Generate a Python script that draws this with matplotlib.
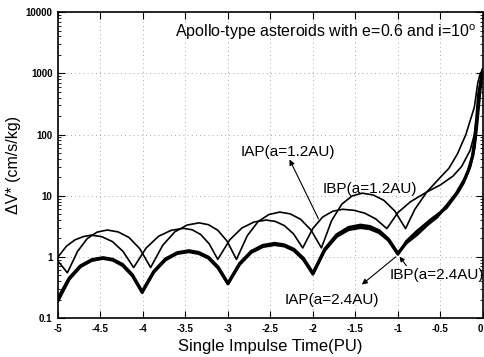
import matplotlib
matplotlib.use("Agg")
import matplotlib.pyplot as plt
from matplotlib.ticker import FixedLocator, LogLocator, NullFormatter

plt.rcParams["font.family"] = ["Liberation Sans", "DejaVu Sans"]
plt.rcParams["mathtext.fontset"] = "custom"
plt.rcParams["mathtext.rm"] = "Liberation Sans"

# IAP(a=1.2AU) - thin curve
t_iap12 = [-5.0, -4.9, -4.8, -4.7, -4.61, -4.485, -4.36, -4.235, -4.11, -3.9625, -3.815, -3.6675,
           -3.52, -3.42, -3.32, -3.22, -3.12, -2.9775, -2.835, -2.6925, -2.55, -2.4425, -2.335,
           -2.2275, -2.12, -2.0025, -1.885, -1.7675, -1.65, -1.52, -1.39, -1.26, -1.13, -1.0,
           -0.85, -0.66, -0.5, -0.35, -0.25, -0.15, -0.1, -0.06, -0.03, 0.0]
v_iap12 = [1.0, 1.5, 1.9, 2.15, 2.27, 2.14, 1.78, 1.23, 0.67, 1.40, 2.18, 2.72,
           2.93, 2.77, 2.32, 1.63, 0.91, 1.91, 2.97, 3.72, 4.0, 3.8, 3.24,
           2.37, 1.4, 2.9, 4.49, 5.57, 6.0, 5.78, 5.19, 4.17, 2.9, 5.3,
           8.0, 11.5, 15.0, 21.0, 30.0, 55.0, 100.0, 250.0, 600.0, 1200.0]

# IBP(a=1.2AU) - thin curve
t_ibp12 = [-5.0, -4.95, -4.89, -4.77, -4.655, -4.54, -4.42, -4.2925, -4.165, -4.0375, -3.91,
           -3.7675, -3.625, -3.4825, -3.34, -3.23, -3.12, -3.01, -2.9, -2.7725, -2.645, -2.5175,
           -2.39, -2.2675, -2.145, -2.0225, -1.9, -1.78, -1.66, -1.54, -1.42, -1.2925, -1.165,
           -1.0375, -0.91, -0.8, -0.66, -0.5, -0.4, -0.3, -0.2, -0.1, -0.06, -0.03, 0.0]
v_ibp12 = [0.85, 0.7, 0.55, 1.23, 2.0, 2.54, 2.75, 2.56, 2.08, 1.36, 0.67,
           1.55, 2.57, 3.31, 3.6, 3.36, 2.73, 1.81, 0.91, 2.22, 3.78, 4.93,
           5.4, 5.05, 4.12, 2.75, 1.4, 3.92, 7.28, 9.9, 11.0, 10.3, 8.4,
           5.65, 2.9, 6.0, 11.5, 20.0, 28.0, 48.0, 100.0, 280.0, 700.0, 1000.0, 1150.0]

# IBP(a=2.4AU) - thick curve
t_ibp24 = [-5.0, -4.8675, -4.735, -4.6025, -4.47, -4.355, -4.24, -4.125, -4.01, -3.8725, -3.735,
           -3.5975, -3.46, -3.345, -3.23, -3.115, -3.0, -2.8625, -2.725, -2.5875, -2.45, -2.3375,
           -2.225, -2.1125, -2.0, -1.86, -1.72, -1.58, -1.44, -1.33, -1.22, -1.11, -1.0, -0.9,
           -0.78, -0.65, -0.54, -0.42, -0.31, -0.22, -0.17, -0.12, -0.09, -0.07, -0.05, -0.02, 0.0]
v_ibp24 = [0.21, 0.451, 0.714, 0.90, 0.97, 0.91, 0.75, 0.51, 0.27, 0.58, 0.925,
           1.17, 1.26, 1.18, 0.99, 0.68, 0.37, 0.78, 1.23, 1.54, 1.66, 1.57,
           1.33, 0.95, 0.54, 1.34, 2.3, 3.02, 3.3, 3.13, 2.67, 1.94, 1.14, 1.7,
           2.3, 3.4, 4.5, 7.0, 11.0, 18.0, 26.0, 45.0, 100.0, 200.0, 450.0, 800.0, 1100.0]

# IAP(a=2.4AU) - thick curve
t_iap24 = [-5.0, -4.8675, -4.735, -4.6025, -4.47, -4.355, -4.24, -4.125, -4.01, -3.8725, -3.735,
           -3.5975, -3.46, -3.345, -3.23, -3.115, -3.0, -2.8625, -2.725, -2.5875, -2.45, -2.3375,
           -2.225, -2.1125, -2.0, -1.86, -1.72, -1.58, -1.44, -1.33, -1.22, -1.11, -1.0, -0.9,
           -0.78, -0.6, -0.43, -0.3, -0.23, -0.15, -0.1, -0.07, -0.04, -0.02, 0.0]
v_iap24 = [0.19, 0.43, 0.69, 0.87, 0.94, 0.88, 0.72, 0.49, 0.26, 0.56, 0.89,
           1.13, 1.21, 1.13, 0.95, 0.65, 0.36, 0.75, 1.18, 1.47, 1.58, 1.5,
           1.27, 0.9, 0.52, 1.28, 2.15, 2.78, 3.0, 2.87, 2.48, 1.85, 1.1, 1.8,
           2.6, 4.2, 6.3, 11.0, 16.0, 30.0, 60.0, 140.0, 400.0, 800.0, 1150.0]

x_ticks = [-5, -4.5, -4, -3.5, -3, -2.5, -2, -1.5, -1, -0.5, 0]
x_tick_labels = ["-5", "-4.5", "-4", "-3.5", "-3", "-2.5", "-2", "-1.5", "-1", "-0.5", "0"]
y_ticks = [0.1, 1, 10, 100, 1000, 10000]
y_tick_labels = ["0.1", "1", "10", "100", "1000", "10000"]

fig = plt.figure(figsize=(4.85, 3.57), dpi=100)
ax = fig.add_axes([0.1196, 0.109, 0.876, 0.857])

ax.plot(t_iap12, v_iap12, color="black", lw=1.2)
ax.plot(t_ibp12, v_ibp12, color="black", lw=1.2)
ax.plot(t_ibp24, v_ibp24, color="black", lw=2.3)
ax.plot(t_iap24, v_iap24, color="black", lw=2.0)

ax.set_yscale("log")
ax.set_xlim(-5, 0)
ax.set_ylim(0.1, 10000)

ax.xaxis.set_major_locator(FixedLocator(x_ticks))
ax.set_xticklabels(x_tick_labels)
ax.yaxis.set_major_locator(FixedLocator(y_ticks))
ax.set_yticklabels(y_tick_labels)
ax.yaxis.set_minor_locator(LogLocator(base=10, subs=range(2, 10)))
ax.yaxis.set_minor_formatter(NullFormatter())

ax.tick_params(which="major", direction="in", length=5, width=0.8, top=True, right=True,
               labelsize=7, pad=4)
ax.tick_params(which="minor", direction="in", length=2.5, width=0.6, top=True, right=True)
for lab in ax.get_xticklabels() + ax.get_yticklabels():
    lab.set_fontweight("bold")
ax.get_xticklabels()[-1].set_horizontalalignment("right")

for s in ax.spines.values():
    s.set_linewidth(1.2)

ax.grid(True, which="major", color="0.55", linestyle=(0, (1, 4)), lw=0.6)

ax.set_xlabel("Single Impulse Time(PU)", fontsize=12, labelpad=4)
ax.set_ylabel("ΔV* (cm/s/kg)", fontsize=11.5, labelpad=3)

ax.text(0.985, 0.936, "Apollo-type asteroids with e=0.6 and i=10$^{\\mathrm{o}}$",
        transform=ax.transAxes, ha="right", va="center", fontsize=11.5)

ax.text(-2.85, 51.5, "IAP(a=1.2AU)", fontsize=11, va="center", ha="left")
ax.annotate("", xy=(-2.29, 43), xytext=(-1.92, 3.8),
            arrowprops=dict(arrowstyle="-|>", color="black", lw=0.8, mutation_scale=8))
ax.text(-1.885, 12.8, "IBP(a=1.2AU)", fontsize=11, va="center", ha="left")
ax.text(-1.10, 0.505, "IBP(a=2.4AU)", fontsize=11, va="center", ha="left")
ax.annotate("", xy=(-1.0, 1.1), xytext=(-0.88, 0.66),
            arrowprops=dict(arrowstyle="-|>", color="black", lw=0.8, mutation_scale=7))
ax.text(-2.33, 0.197, "IAP(a=2.4AU)", fontsize=11, va="center", ha="left")
ax.annotate("", xy=(-1.45, 0.33), xytext=(-1.0, 1.07),
            arrowprops=dict(arrowstyle="-|>", color="black", lw=0.8, mutation_scale=8))

fig.savefig("out.png", dpi=100)
